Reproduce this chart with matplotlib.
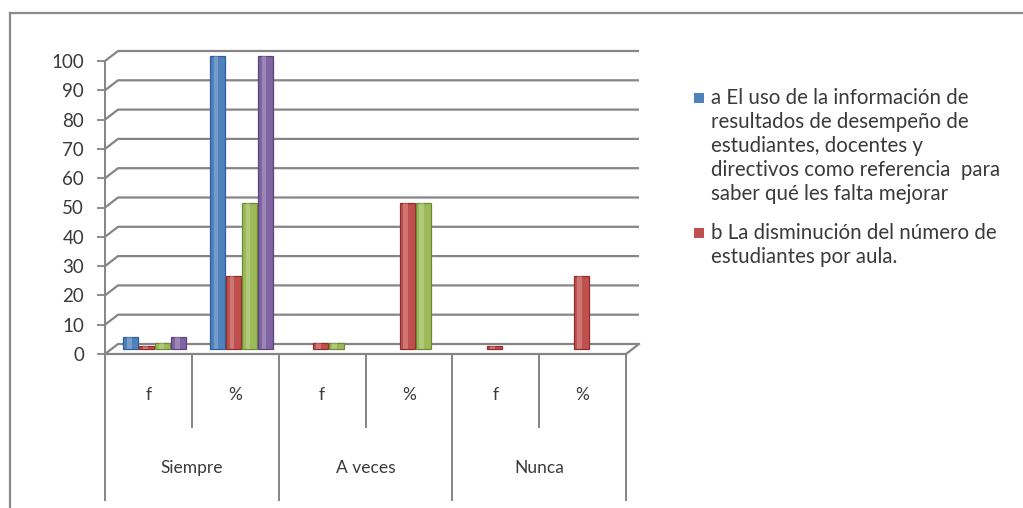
import matplotlib
matplotlib.use("Agg")
import matplotlib.pyplot as plt
from matplotlib.transforms import offset_copy
from matplotlib.patches import Rectangle
from matplotlib.lines import Line2D
import numpy as np

plt.rcParams['font.family'] = ['Lato', 'DejaVu Sans']

# ---- data ----
grupos = ["Siempre", "A veces", "Nunca"]
subcategorias = ["f", "%", "f", "%", "f", "%"]
serie_a = [4, 100, 0, 0, 0, 0]
serie_b = [1, 25, 2, 50, 1, 25]
serie_c = [2, 50, 2, 50, 0, 0]
serie_d = [4, 100, 0, 0, 0, 0]
y_ticks = [0, 10, 20, 30, 40, 50, 60, 70, 80, 90, 100]
leyenda_a = ["a El uso de la información de",
             "resultados de desempeño de",
             "estudiantes, docentes y",
             "directivos como referencia  para",
             "saber qué les falta mejorar"]
leyenda_b = ["b La disminución del número de",
             "estudiantes por aula."]

series = [serie_a, serie_b, serie_c, serie_d]
colores = ["#4F81BD", "#C0504D", "#9BBB59", "#8064A2"]
bordes = ["#2f5f96", "#8e2f2c", "#6f8a36", "#5a4479"]

W, H = 1023, 508
fig = plt.figure(figsize=(W / 100, H / 100), dpi=100)
fig.patch.set_facecolor("white")

def fx(px):
    return px / W

def fy(py):
    return 1 - py / H

# front plane of the plot area
left, right, top, bottom = 105, 626, 61, 354
ax = fig.add_axes([fx(left), fy(bottom), (right - left) / W, (bottom - top) / H])
ax.set_xlim(0, len(subcategorias))
ax.set_ylim(0, 100)
ax.patch.set_alpha(0)

ppx = (right - left) / len(subcategorias)
ppy = (bottom - top) / 100.0
depth_px = (13, 10)
dx = depth_px[0] / ppx
dy = depth_px[1] / ppy

grid_col = "#858585"
text_col = "#3a3a3a"

for s in ["top", "right", "bottom"]:
    ax.spines[s].set_visible(False)
ax.spines["left"].set_color(grid_col)
ax.spines["left"].set_linewidth(1.4)
ax.set_yticks(y_ticks)
ax.set_yticklabels([str(v) for v in y_ticks])
ax.tick_params(axis="y", length=6, width=1.3, color=grid_col,
               labelsize=13.5, labelcolor=text_col, pad=9)
ax.set_xticks([])

n = len(subcategorias)
# back wall gridlines with the slanted side wall segment
for v in y_ticks:
    ax.plot([0, dx, n + dx], [v, v + dy, v + dy], color=grid_col, lw=1.6,
            clip_on=False, solid_capstyle="butt", zorder=1)
# floor edges
ax.plot([0, n], [0, 0], color=grid_col, lw=1.6, clip_on=False, zorder=1)
ax.plot([n, n + dx], [0, dy], color=grid_col, lw=1.6, clip_on=False, zorder=1)

# category axis separators and labels
inner_px, group_px = 73, 146
for i in range(n + 1):
    length = group_px if i % 2 == 0 else inner_px
    ax.plot([i, i], [0, -length / ppy], color=grid_col, lw=1.4,
            clip_on=False, zorder=1)
for i, lab in enumerate(subcategorias):
    ax.text(i + 0.5, -41 / ppy, lab, ha="center", va="center",
            fontsize=12.5, color=text_col, clip_on=False)
for g, lab in enumerate(grupos):
    ax.text(2 * g + 1, -114 / ppy, lab, ha="center", va="center",
            fontsize=12.5, color=text_col, clip_on=False)

# bars sit halfway into the depth of the plot
mid = offset_copy(ax.transData, fig=fig, x=depth_px[0] / 2, y=depth_px[1] / 2,
                  units="dots")
slot = 16 / ppx
bw = 15 / ppx
centers = np.arange(n) + 0.5
for k, (vals, col, edge) in enumerate(zip(series, colores, bordes)):
    vals = np.asarray(vals, dtype=float)
    keep = vals > 0
    xs = centers[keep] + (k - 1.5) * slot
    hs = vals[keep]
    ax.bar(xs, hs, width=bw, color=col, edgecolor=edge, linewidth=0.9,
           transform=mid, zorder=3, clip_on=False)
    # cylinder highlight
    ax.bar(xs - bw * 0.12, hs, width=bw * 0.32, color="white", alpha=0.22,
           linewidth=0, transform=mid, zorder=4, clip_on=False)

# legend (only the first two series are listed)
def legend_entry(color, lines, y0):
    fig.add_artist(Rectangle((fx(694), fy(y0 + 5)), 10 / W, 10 / H,
                             transform=fig.transFigure, facecolor=color,
                             edgecolor="none"))
    for j, line in enumerate(lines):
        fig.text(fx(711), fy(y0 + 6 + 24 * j), line, fontsize=14.8,
                 color=text_col, ha="left", va="baseline")

legend_entry(colores[0], leyenda_a, 98)
legend_entry(colores[1], leyenda_b, 233)

# outer chart frame
frame_col = "#8a8a8a"
fig.add_artist(Line2D([fx(10), fx(10)], [fy(13), 0], color=frame_col, lw=1.6,
                      transform=fig.transFigure))
fig.add_artist(Line2D([fx(10), 1], [fy(13), fy(13)], color=frame_col, lw=1.6,
                      transform=fig.transFigure))

fig.savefig("out.png", dpi=100, facecolor="white")
